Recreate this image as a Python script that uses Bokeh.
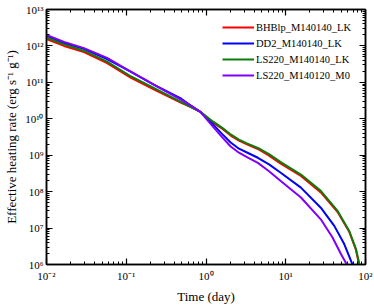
from bokeh.plotting import figure
from bokeh.models import (LogAxis, FixedTicker, CustomJSTickFormatter, Legend,
                          LegendItem, Range1d)
from bokeh.embed import file_html
from bokeh.resources import INLINE

# ---- data (time in days, rate in erg s^-1 g^-1) ----
time_common = [0.01, 0.0166, 0.0295, 0.0575, 0.115, 0.224, 0.49, 0.638, 0.85,
               1.23, 1.60, 2.04, 2.59, 3.31, 4.47, 6.17, 8.65, 15.5, 27.5]

time_bhblp = time_common + [44.7, 62.5, 76.0, 83.0]
rate_bhblp = [1.55e12, 1.00e12, 6.76e11, 3.39e11, 1.32e11, 6.31e10, 2.75e10,
              2.14e10, 1.55e10, 7.76e9, 5.37e9, 3.47e9, 2.51e9, 1.95e9,
              1.48e9, 9.77e8, 5.89e8, 2.69e8, 9.55e7, 2.75e7, 7.94e6,
              2.51e6, 1.0e6]

time_dd2 = time_common + [40.6, 54.1, 67.0, 68.5]
rate_dd2 = [1.86e12, 1.20e12, 8.32e11, 4.37e11, 1.95e11, 8.51e10, 3.55e10,
            2.34e10, 1.55e10, 6.92e9, 3.80e9, 2.24e9, 1.51e9, 1.17e9,
            8.51e8, 5.62e8, 3.31e8, 1.29e8, 3.63e7, 1.15e7, 3.63e6,
            1.15e6, 1.0e6]

time_ls220 = time_common + [44.7, 62.5, 76.0, 84.0]
rate_ls220 = [1.70e12, 1.10e12, 7.41e11, 3.72e11, 1.45e11, 6.92e10, 2.88e10,
              2.14e10, 1.55e10, 8.32e9, 5.62e9, 3.72e9, 2.69e9, 2.09e9,
              1.58e9, 1.07e9, 6.46e8, 2.95e8, 1.05e8, 2.95e7, 8.32e6,
              2.63e6, 1.0e6]

time_ls220_m0 = time_common + [38.6, 49.2, 56.9, 57.8]
rate_ls220_m0 = [2.00e12, 1.29e12, 8.71e11, 4.68e11, 1.95e11, 8.51e10,
                 3.31e10, 2.34e10, 1.55e10, 6.03e9, 3.09e9, 1.74e9, 1.17e9,
                 8.71e8, 6.17e8, 3.63e8, 1.95e8, 6.92e7, 1.74e7, 5.50e6,
                 1.95e6, 1.10e6, 1.0e6]

series_names = ["BHBlp_M140140_LK", "DD2_M140140_LK",
                "LS220_M140140_LK", "LS220_M140120_M0"]

x_major = [1e-2, 1e-1, 1e0, 1e1, 1e2]
y_major = [1e6, 1e7, 1e8, 1e9, 1e10, 1e11, 1e12, 1e13]
x_minor = [m * 10.0 ** e for e in range(-2, 2) for m in range(2, 10)]
y_minor = [m * 10.0 ** e for e in range(6, 13) for m in range(2, 10)]

FONT = "Liberation Serif"

p = figure(width=374, height=306, x_axis_type="log", y_axis_type="log",
           x_range=Range1d(0.01, 100), y_range=Range1d(1e6, 1e13),
           output_backend="svg", toolbar_location=None,
           min_border_left=46, min_border_right=9, min_border_top=9,
           min_border_bottom=40)
p.grid.visible = False
p.outline_line_color = "black"
p.outline_line_width = 1.5
p.background_fill_color = "white"
p.border_fill_color = "white"

fmt = CustomJSTickFormatter(code="""
const sup = {"-":"\\u207b","0":"\\u2070","1":"\\u00b9","2":"\\u00b2","3":"\\u00b3",
             "4":"\\u2074","5":"\\u2075","6":"\\u2076","7":"\\u2077","8":"\\u2078","9":"\\u2079"};
const e = Math.round(Math.log10(tick));
return "10" + String(e).split("").map(c => sup[c]).join("");
""")

def style_axis(ax, major, minor, show_labels):
    ax.ticker = FixedTicker(ticks=major, minor_ticks=minor)
    ax.major_tick_in = 6
    ax.major_tick_out = 0
    ax.minor_tick_in = 3
    ax.minor_tick_out = 0
    ax.axis_line_width = 1.5
    ax.major_tick_line_width = 1.2
    ax.minor_tick_line_width = 1
    if show_labels:
        ax.formatter = fmt
        ax.major_label_text_font = FONT
        ax.major_label_text_font_size = "11px"
        ax.major_label_text_color = "black"
        ax.axis_label_text_font = FONT
        ax.axis_label_text_font_size = "13px"
        ax.axis_label_text_font_style = "normal"
        ax.axis_label_text_color = "black"
    else:
        ax.major_label_text_font_size = "1px"
        ax.major_label_text_color = None
        ax.major_label_standoff = 0

style_axis(p.xaxis[0], x_major, x_minor, True)
style_axis(p.yaxis[0], y_major, y_minor, True)
p.xaxis[0].axis_label = "Time (day)"
p.xaxis[0].major_label_standoff = 5
p.xaxis[0].axis_label_standoff = 4
p.yaxis[0].axis_label = "Effective heating rate (erg s\u207b\u00b9 g\u207b\u00b9)"
p.yaxis[0].major_label_standoff = 3
p.yaxis[0].axis_label_standoff = 3

top_ax = LogAxis()
style_axis(top_ax, x_major, x_minor, False)
p.add_layout(top_ax, "above")
right_ax = LogAxis()
style_axis(right_ax, y_major, y_minor, False)
p.add_layout(right_ax, "right")

r_red = p.line(time_bhblp, rate_bhblp, line_color="#ff0000", line_width=2)
r_blue = p.line(time_dd2, rate_dd2, line_color="#0000ff", line_width=2)
r_green = p.line(time_ls220, rate_ls220, line_color="#0b7d0b", line_width=2)
r_purple = p.line(time_ls220_m0, rate_ls220_m0, line_color="#8000ff", line_width=2)

legend = Legend(items=[LegendItem(label=n, renderers=[r]) for n, r in
                       zip(series_names, [r_red, r_blue, r_green, r_purple])],
                location=(176, 181))
legend.border_line_color = None
legend.background_fill_alpha = 0
legend.label_text_font = FONT
legend.label_text_font_size = "10.5px"
legend.label_text_color = "black"
legend.glyph_width = 32
legend.glyph_height = 16
legend.label_height = 16
legend.label_standoff = 2
legend.spacing = 0
legend.padding = 9
legend.margin = 0
p.add_layout(legend)

open("out.html", "w").write(file_html(p, INLINE))
